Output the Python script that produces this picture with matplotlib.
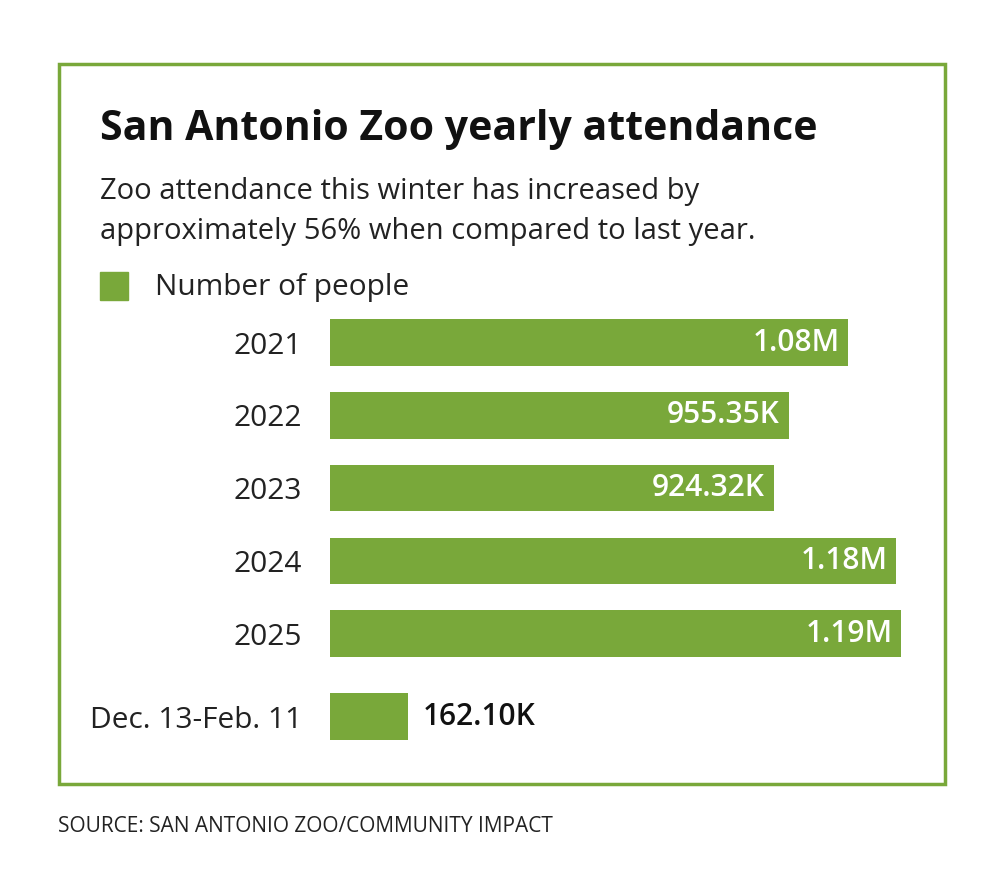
import matplotlib.pyplot as plt
from matplotlib.patches import Rectangle

categories = ['2021', '2022', '2023', '2024', '2025', 'Dec. 13-Feb. 11']
values = [1080000, 955350, 924320, 1180000, 1190000, 162100]
labels = ['1.08M', '955.35K', '924.32K', '1.18M', '1.19M', '162.10K']
positions = [0, 1, 2, 3, 4, 5.14]

green = '#79a83a'
plt.rcParams['font.family'] = ['Open Sans', 'DejaVu Sans']

fig = plt.figure(figsize=(10, 8.86), dpi=100)
W, H = 1000, 886

def fx(px):
    return px / W

def fy(py):
    return 1 - py / H

fig.patches.append(Rectangle((fx(59), fy(784)), fx(945) - fx(59), fy(64) - fy(784),
                             transform=fig.transFigure, fill=False,
                             edgecolor=green, linewidth=2.5))

fig.text(fx(100), fy(130), 'San Antonio Zoo yearly attendance', fontsize=29.5,
         fontweight='bold', va='center', ha='left', color='#111111')
fig.text(fx(100), fy(191), 'Zoo attendance this winter has increased by', fontsize=21,
         va='center', ha='left', color='#222222')
fig.text(fx(100), fy(232), 'approximately 56% when compared to last year.', fontsize=21,
         va='center', ha='left', color='#222222')
fig.patches.append(Rectangle((fx(100), fy(300)), fx(28), fy(0) - fy(28),
                             transform=fig.transFigure, color=green))
fig.text(fx(155), fy(287), 'Number of people', fontsize=21.5, va='center', ha='left',
         color='#222222')
fig.text(fx(58), fy(826), 'SOURCE: SAN ANTONIO ZOO/COMMUNITY IMPACT', fontsize=15,
         va='center', ha='left', color='#222222')

ax = fig.add_axes([fx(330), fy(750), fx(600), fy(310) - fy(750)])
ax.barh(positions, values, height=0.64, color=green)
ax.set_xlim(0, 1250000)
ax.set_ylim(5.6, -0.45)
ax.set_yticks(positions)
ax.set_yticklabels(categories, fontsize=21.5, color='#222222')
ax.tick_params(axis='y', length=0, pad=20)
ax.set_xticks([])
for s in ax.spines.values():
    s.set_visible(False)

for p, v, l in zip(positions, values, labels):
    if v > 500000:
        ax.text(v - 18000, p, l, ha='right', va='center', color='white',
                fontsize=21.5, fontweight='semibold')
    else:
        ax.text(v + 30000, p, l, ha='left', va='center', color='#111111',
                fontsize=21.5, fontweight='semibold')

fig.savefig('out.png', dpi=100)
